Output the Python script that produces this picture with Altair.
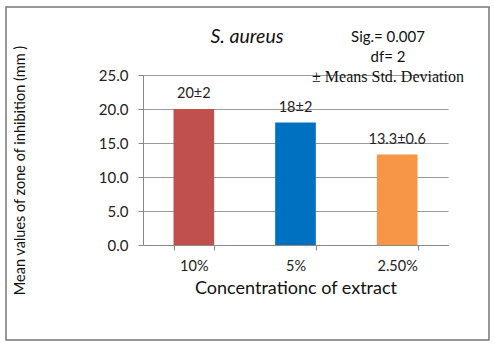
import altair as alt
import pandas as pd

categories = ["10%", "5%", "2.50%"]
values = [20.0, 18.0, 13.3]
labels = ["20±2", "18±2", "13.3±0.6"]
colors = ["#C0504D", "#0070C0", "#F79646"]

df = pd.DataFrame({"cat": categories, "val": values, "lab": labels, "col": colors})

W, H = 305, 170
FONT = "Lato"

x_enc = alt.X("cat:N", sort=categories,
              scale=alt.Scale(paddingInner=0.6, paddingOuter=0.3),
              axis=alt.Axis(title="Concentrationc of extract", labelAngle=0,
                            labelFontSize=14.5, labelColor="#222", labelPadding=9,
                            titleFontSize=18, titleFontWeight="normal", titleColor="#111",
                            titlePadding=7, tickBand="extent", tickSize=5,
                            domainColor="#888", tickColor="#888", labelFont=FONT,
                            titleFont=FONT))
y_enc = alt.Y("val:Q", scale=alt.Scale(domain=[0, 25]),
              axis=alt.Axis(title="Mean values of zone of inhibition (mm )",
                            values=[0, 5, 10, 15, 20, 25], format=".1f",
                            labelOverlap=False, grid=True,
                            labelFontSize=15, labelColor="#222", labelPadding=10,
                            tickSize=5, domainColor="#888", tickColor="#888",
                            gridColor="#999", gridWidth=1, titleFontSize=14.5,
                            titleFontWeight="normal", titleColor="#111",
                            titleX=-123, titleY=95, titleAngle=-90,
                            titleBaseline="middle", titleAlign="center",
                            labelFont=FONT, titleFont=FONT))

bars = alt.Chart(df).mark_bar().encode(
    x=x_enc, y=y_enc,
    color=alt.Color("col:N", scale=None),
)

bar_text = alt.Chart(df).mark_text(fontSize=14.5, baseline="bottom", dy=-8,
                                   font=FONT, color="#222").encode(
    x=x_enc, y=y_enc, text="lab:N"
)

def note(txt, x, y, size, font, style="normal"):
    return alt.Chart(pd.DataFrame({"t": [txt]})).mark_text(
        fontSize=size, font=font, fontStyle=style, color="#111", clip=False
    ).encode(x=alt.value(x), y=alt.value(y), text="t:N")

title_txt = note("S. aureus", 104, -38, 19.5, FONT, "italic")
ann1 = note("Sig.= 0.007", 245, -38, 15, FONT)
ann2 = note("df= 2", 245, -18, 15, FONT)
ann3 = note("± Means Std. Deviation", 245, 2, 16, "Liberation Serif")

border = alt.Chart(pd.DataFrame({"a": [0]})).mark_rect(
    fill=None, stroke="#777", strokeWidth=1.5, clip=False
).encode(x=alt.value(-137), x2=alt.value(346), y=alt.value(-68), y2=alt.value(265))

chart = alt.layer(bars, bar_text, title_txt, ann1, ann2, ann3, border).properties(
    width=W, height=H,
    autosize=alt.AutoSizeParams(type="none"),
    padding={"left": 143, "top": 75, "right": 47, "bottom": 110},
    background="white",
).configure_view(stroke=None)

chart.save("out.html", embed_options={"renderer": "svg", "actions": False})
